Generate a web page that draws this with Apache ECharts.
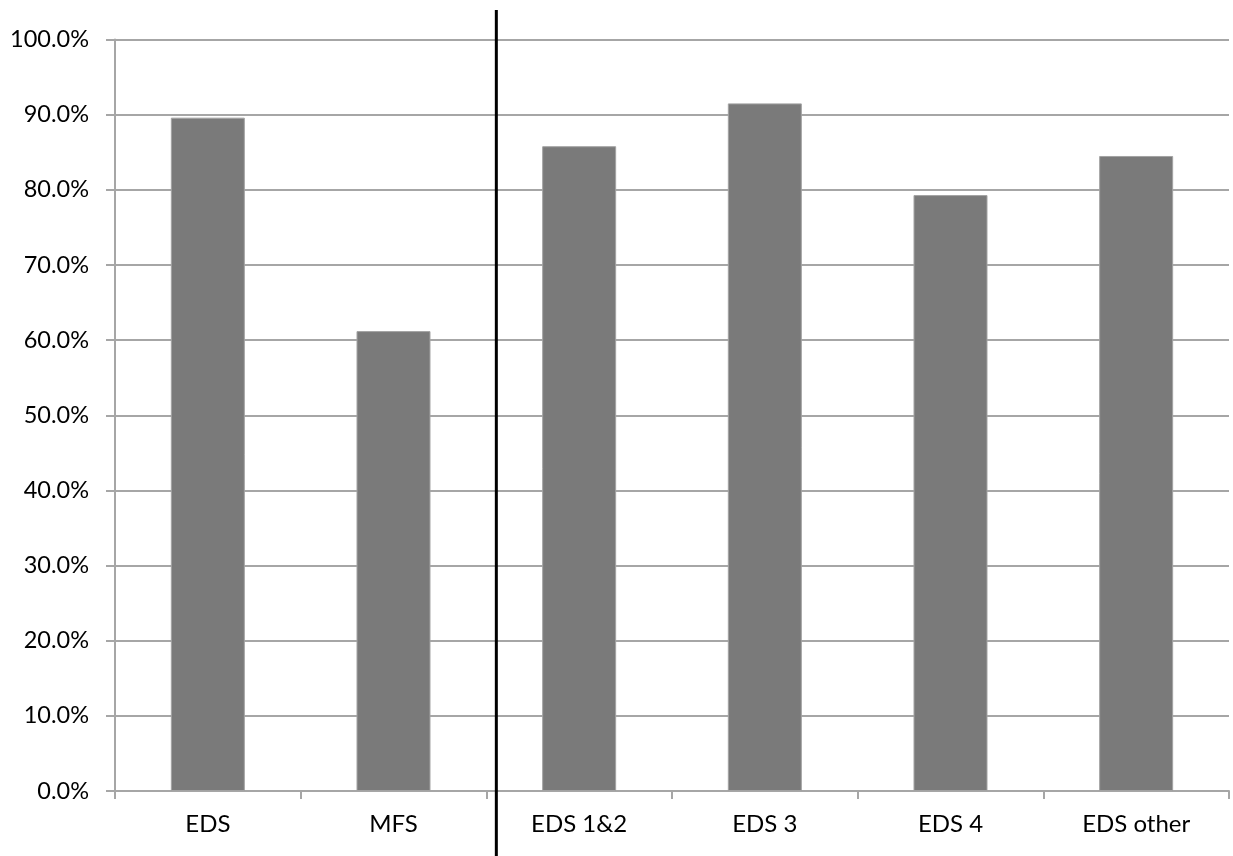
<!DOCTYPE html>
<html>
<head>
<meta charset="utf-8">
<script src="https://cdn.jsdelivr.net/npm/echarts@6/dist/echarts.min.js"></script>
<style>
  html, body { margin: 0; padding: 0; background: #ffffff; }
  #chart { width: 1233px; height: 856px; }
</style>
</head>
<body>
<div id="chart"></div>
<script>
// Share of cases per group (percent)
const categories = ['EDS', 'MFS', 'EDS 1&2', 'EDS 3', 'EDS 4', 'EDS other'];
const values = [89.6, 61.2, 85.8, 91.5, 79.3, 84.5];
const yTicks = { min: 0, max: 100, interval: 10 };
// The divider sits after this many categories
const dividerAfter = 2;

const gridColor = '#a6a6a6';
const fontFamily = 'Lato, "Open Sans", sans-serif';

const chart = echarts.init(document.getElementById('chart'), null, { renderer: 'canvas' });

chart.setOption({
  animation: false,
  backgroundColor: '#ffffff',
  grid: { left: 115, right: 4, top: 39.5, bottom: 65, containLabel: false },
  xAxis: {
    type: 'category',
    data: categories,
    axisLine: { show: true, lineStyle: { color: gridColor, width: 2 } },
    axisTick: { show: true, alignWithLabel: false, length: 8, lineStyle: { color: gridColor, width: 2 } },
    axisLabel: { color: '#000000', fontSize: 24, fontFamily: fontFamily, margin: 21 },
    splitLine: { show: false }
  },
  yAxis: {
    type: 'value',
    min: yTicks.min,
    max: yTicks.max,
    interval: yTicks.interval,
    axisLine: { show: true, lineStyle: { color: gridColor, width: 2 } },
    axisTick: { show: true, length: 9, inside: false, lineStyle: { color: gridColor, width: 2 } },
    axisLabel: {
      color: '#000000', fontSize: 23.5, fontFamily: fontFamily, margin: 26,
      formatter: v => v.toFixed(1) + '%'
    },
    splitLine: { show: true, lineStyle: { color: gridColor, width: 2 } }
  },
  series: [{
    type: 'bar',
    data: values,
    barWidth: 74,
    itemStyle: { color: '#7a7a7a', borderColor: '#a3a3a3', borderWidth: 1 }
  }]
});

// Vertical divider between the two groups of categories
const xA = chart.convertToPixel({ xAxisIndex: 0 }, categories[dividerAfter - 1]);
const xB = chart.convertToPixel({ xAxisIndex: 0 }, categories[dividerAfter]);
const dividerX = (xA + xB) / 2 + 10;
chart.setOption({
  graphic: [{
    type: 'line',
    shape: { x1: dividerX, y1: 10, x2: dividerX, y2: 856 },
    style: { stroke: '#000000', lineWidth: 3 },
    z: 100
  }]
});
</script>
</body>
</html>
